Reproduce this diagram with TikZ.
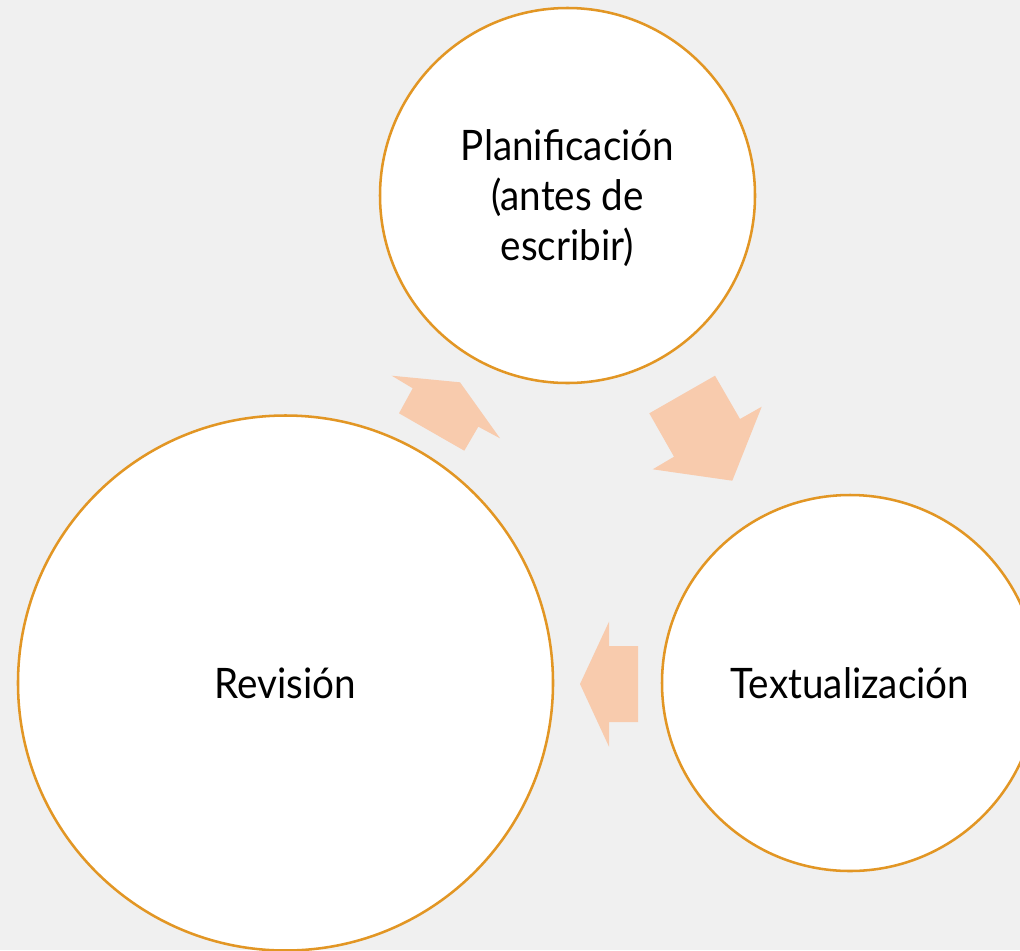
\documentclass[tikz,border=0pt]{standalone}
\usepackage{fontspec}
\setmainfont{Lato}[FakeStretch=0.92]
\definecolor{ringorange}{RGB}{226,150,36}
\definecolor{arrowpeach}{RGB}{248,203,173}
\definecolor{slidegray}{RGB}{240,240,240}
\tikzset{every picture/.style={line width=0.75pt}}
\tikzset{
  stage/.style={circle, draw=ringorange, fill=white, line width=1.9pt, inner sep=0pt,
    align=center, text height=22.5pt, text depth=0pt,
    font=\fontsize{31.5pt}{37.5pt}\selectfont},
  flow/.style={fill=arrowpeach, draw=none}
}

\begin{document}
\begin{tikzpicture}[x=0.75pt,y=0.75pt,yscale=-1,xscale=1]
            %uncomment if require: \path (0,950); %set diagram left start at 0, and has height of 950
            \useasboundingbox (0,0) rectangle (1020,950);
            \clip (0,0) rectangle (1020,950);

            %Shape: Rectangle [id:slide] 
            \fill [slidegray] (0,0) rectangle (1020,950);

            %Shape: Circle [id:plan] 
            \node [stage, minimum size=375*0.75pt, text height=97.5pt] (plan) at (567.5,195.5) {Planificación\\(antes de\\escribir)};
            %Shape: Circle [id:textu] 
            \node [stage, minimum size=376*0.75pt] (textu) at (850,683) {Textualización};
            %Shape: Circle [id:revis] 
            \node [stage, minimum size=535*0.75pt] (revis) at (285.5,683) {Revisión};

            %Shape: Right Arrow [id:revis-plan] 
            \fill [flow] (391.7,375.7) -- (460,382.3) -- (500,438.3) -- (478.3,426.7) -- (464.3,450.7) -- (399,413.3) -- (412.7,388.3) -- cycle ;
            %Shape: Right Arrow [id:plan-textu] 
            \fill [flow] (649.3,413.3) -- (715,375.7) -- (740,419) -- (761.7,406.7) -- (732.3,480.7) -- (652.7,469.3) -- (674,456.7) -- cycle ;
            %Shape: Right Arrow [id:textu-revis] 
            \fill [flow] (638,646) -- (609,646) -- (609,621.7) -- (580,684) -- (609,746.7) -- (609,722) -- (638,722) -- cycle ;
        \end{tikzpicture}
\end{document}
